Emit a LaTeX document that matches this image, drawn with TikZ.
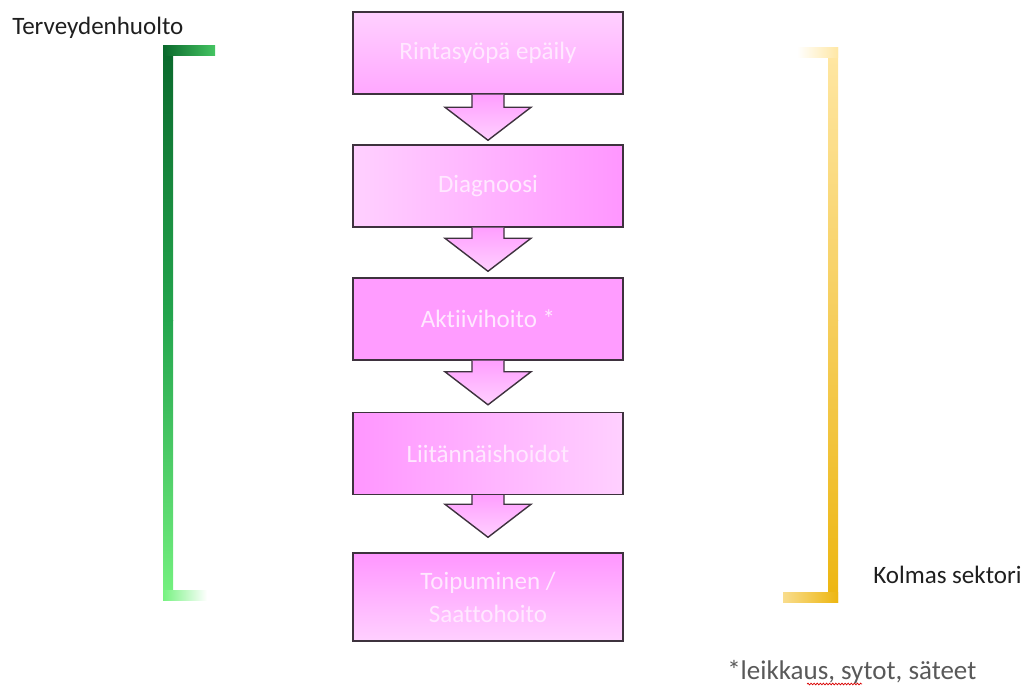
\documentclass[tikz,border=0pt]{standalone}
\usepackage{fontspec}
\setmainfont{Carlito}[Ligatures=NoCommon]
\usetikzlibrary{calc,decorations.pathmorphing}
\definecolor{reuna}{RGB}{62,50,62}
\definecolor{pinkvaalea}{RGB}{255,208,255}
\definecolor{pinktumma}{RGB}{255,150,255}
\definecolor{tekstipink}{RGB}{255,232,255}
\definecolor{vihrea1}{RGB}{10,104,44}
\definecolor{vihrea2}{RGB}{36,166,78}
\definecolor{vihrea3}{RGB}{118,242,128}
\definecolor{kelta1}{RGB}{255,231,164}
\definecolor{kelta2}{RGB}{246,206,92}
\definecolor{kelta3}{RGB}{237,182,16}
\tikzset{
    etappi/.style={rectangle,draw=reuna,line width=1pt,minimum width=6.75cm,minimum height=2.05cm,
      text=tekstipink,align=center,font=\fontsize{17.8}{23.5}\selectfont},
    nuoli/.style={draw=reuna,line width=1pt,top color=pinktumma!85!pinkvaalea,bottom color=pinkvaalea},
    selite/.style={anchor=west,inner sep=0pt,font=\fontsize{17.8}{21}\selectfont,text=black!88},
  }
\begin{document}
\begin{tikzpicture}[x=0.025cm,y=-0.025cm]
				  \useasboundingbox (0,0) rectangle (1027,686);
				  %SULKEET
				  \shade[top color=vihrea1,bottom color=vihrea2] (163,45) rectangle (173,320);
				  \shade[top color=vihrea2,bottom color=vihrea3] (163,320) rectangle (173,600);
				  \shade[left color=vihrea1,right color=vihrea2!60!vihrea3] (163,45) rectangle (215,55);
				  \shade[left color=vihrea3,right color=white] (163,590) rectangle (207,600);
				  \shade[top color=kelta1,bottom color=kelta2] (828,47) rectangle (838,320);
				  \shade[top color=kelta2,bottom color=kelta3] (828,320) rectangle (838,602);
				  \shade[left color=white,right color=kelta1] (797,47) rectangle (838,57);
				  \shade[left color=kelta2!70!white,right color=kelta3] (783,592) rectangle (838,602);
				  %LAATIKOT
				  \node[etappi,top color=pinkvaalea,bottom color=pinktumma!70!pinkvaalea] (rinta) at (488,53) {Rintasyöpä epäily};
				  \node[etappi,left color=pinkvaalea,right color=pinktumma] (diag) at (488,186) {Diagnoosi};
				  \node[etappi,fill=pinktumma!90!pinkvaalea] (aktiivi) at (488,319) {Aktiivihoito *};
				  \node[etappi,left color=pinktumma,right color=pinkvaalea] (liit) at (488,453.5) {Liitännäishoidot};
				  \node[etappi,minimum height=2.2cm,top color=pinktumma,bottom color=pinkvaalea] (toipu) at (488,597) {Toipuminen /\\Saattohoito};
				  %NUOLET
				  \foreach \a/\b/\g in {rinta/diag/4,diag/aktiivi/6,aktiivi/liit/7,liit/toipu/15}{
				    \path[nuoli] let \p1=(\a.south), \p2=($(\b.north)+(0,-\g)$) in
				      (\x1-11.4pt,\y1) -- (\x1-11.4pt,\y2+23.5pt) -- (\x1-30.6pt,\y2+23.5pt) -- (\x1,\y2)
				      -- (\x1+30.6pt,\y2+23.5pt) -- (\x1+11.4pt,\y2+23.5pt) -- (\x1+11.4pt,\y1);
				  }
				  %TEKSTIT
				  \node[selite] (terveys) at (12,28) {Terveydenhuolto};
				  \node[selite] (kolmas) at (873,575) {Kolmas sektori};
				  \node[selite,text=black!65,font=\fontsize{19.2}{22}\selectfont] (hoidot) at (727,672) {*leikkaus, sytot, säteet};
				  \draw[red!85!black,line width=0.5pt,decorate,decoration={snake,amplitude=0.6pt,segment length=2.2pt}] (807,684) -- (862,684);
				  \end{tikzpicture}
\end{document}
